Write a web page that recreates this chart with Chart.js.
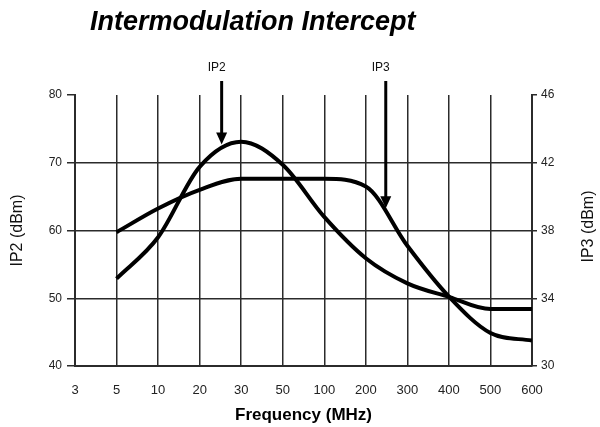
<!DOCTYPE html>
<html><head><meta charset="utf-8">
<script src="https://cdn.jsdelivr.net/npm/chart.js@4/dist/chart.umd.min.js"></script>
<style>html,body{margin:0;padding:0;background:#fff;}#wrap{width:600px;height:427px;}</style>
</head><body><div id="wrap"><canvas id="c" width="600" height="427"></canvas></div>
<script>
const categories = ['3','5','10','20','30','50','100','200','300','400','500','600'];
const ip2Values = [null, 52.9, 59.0, 69.4, 73.1, 69.7, 62.0, 55.9, 52.2, 50.2, 48.4, 48.4];
const ip3Values = [null, 37.9, 39.3, 40.4, 41.05, 41.05, 41.05, 40.6, 37.1, 34.1, 31.95, 31.5];
const ip2Ticks = [40, 50, 60, 70, 80];
const ip3Ticks = [30, 34, 38, 42, 46];
const arrowLabels = ['IP2', 'IP3'];
const arrowAt = [3.53, 7.48];
const arrowTip = [72.7, 63.3];

const FONT = "'Liberation Sans', Arial, sans-serif";
const toPts = vals => vals.map((v, i) => v == null ? null : {x: i, y: v}).filter(p => p);

const annot = {
  id: 'annot',
  afterDraw(chart) {
    const ctx = chart.ctx, xs = chart.scales.x, ys = chart.scales.y, a = chart.chartArea;
    ctx.save();
    // title
    ctx.fillStyle = '#000';
    ctx.font = "italic bold 27px " + FONT;
    ctx.textAlign = 'left'; ctx.textBaseline = 'middle';
    ctx.fillText('Intermodulation Intercept', 90, 23);
    // right axis title
    ctx.save();
    ctx.font = "16px " + FONT;
    ctx.fillStyle = '#111';
    ctx.translate(589, (a.top + a.bottom) / 2 - 4);
    ctx.rotate(-Math.PI / 2);
    ctx.textAlign = 'center';
    ctx.fillText('IP3 (dBm)', 0, 0);
    ctx.restore();
    // arrows
    arrowLabels.forEach((lab, i) => {
      const px = xs.getPixelForValue(arrowAt[i]);
      const tipY = ys.getPixelForValue(arrowTip[i]);
      const topY = a.top - 14;
      ctx.strokeStyle = '#000'; ctx.lineWidth = 3;
      ctx.beginPath(); ctx.moveTo(px, topY); ctx.lineTo(px, tipY - 10); ctx.stroke();
      ctx.beginPath();
      ctx.moveTo(px - 5.5, tipY - 12); ctx.lineTo(px + 5.5, tipY - 12); ctx.lineTo(px, tipY);
      ctx.closePath(); ctx.fillStyle = '#000'; ctx.fill();
      ctx.font = "12px " + FONT; ctx.textAlign = 'center'; ctx.textBaseline = 'middle';
      ctx.fillStyle = '#111';
      ctx.fillText(lab, px - 5, a.top - 27);
    });
    ctx.restore();
  }
};

new Chart(document.getElementById('c'), {
  type: 'line',
  data: {
    datasets: [
      {label: 'IP2', data: toPts(ip2Values), yAxisID: 'y', borderColor: '#000', borderWidth: 4,
       pointRadius: 0, cubicInterpolationMode: 'monotone', fill: false},
      {label: 'IP3', data: toPts(ip3Values), yAxisID: 'y1', borderColor: '#000', borderWidth: 4,
       pointRadius: 0, cubicInterpolationMode: 'monotone', fill: false}
    ]
  },
  options: {
    responsive: false, animation: false, devicePixelRatio: 1,
    layout: {padding: {top: 95, left: 0, right: 0, bottom: 0}},
    plugins: {legend: {display: false}, tooltip: {enabled: false}, title: {display: false}},
    scales: {
      x: {
        type: 'linear', min: 0, max: categories.length - 1,
        afterBuildTicks: s => { s.ticks = categories.map((c, i) => ({value: i})); },
        afterFit: s => { s.height = 61; },
        ticks: {callback: v => categories[v], font: {family: FONT, size: 13}, color: '#222', padding: 17, autoSkip: false, maxRotation: 0},
        grid: {color: '#2b2b2b', lineWidth: 1.5, drawTicks: false},
        border: {color: '#2b2b2b', width: 2},
        title: {display: true, text: 'Frequency (MHz)', font: {family: FONT, size: 17, weight: 'bold'}, color: '#000', padding: {top: 0, bottom: 1}}
      },
      y: {
        position: 'left', min: 40, max: 80,
        afterBuildTicks: s => { s.ticks = ip2Ticks.map(v => ({value: v})); },
        afterFit: s => { s.width = 75; },
        ticks: {font: {family: FONT, size: 12}, color: '#222', padding: 5},
        grid: {color: c => (c.tick && c.tick.value === 80) ? 'rgba(0,0,0,0)' : '#2b2b2b', tickColor: '#2b2b2b', lineWidth: 1.5, tickLength: 8},
        border: {color: '#2b2b2b', width: 2},
        title: {display: true, text: 'IP2 (dBm)', font: {family: FONT, size: 16}, color: '#111', padding: {top: 8, bottom: 0}}
      },
      y1: {
        position: 'right', min: 30, max: 46,
        afterBuildTicks: s => { s.ticks = ip3Ticks.map(v => ({value: v})); },
        afterFit: s => { s.width = 68; },
        ticks: {font: {family: FONT, size: 12}, color: '#222', padding: 4},
        grid: {drawOnChartArea: false, color: '#2b2b2b', lineWidth: 1.5, tickLength: 5},
        border: {color: '#2b2b2b', width: 2}
      }
    }
  },
  plugins: [annot]
});
</script></body></html>
